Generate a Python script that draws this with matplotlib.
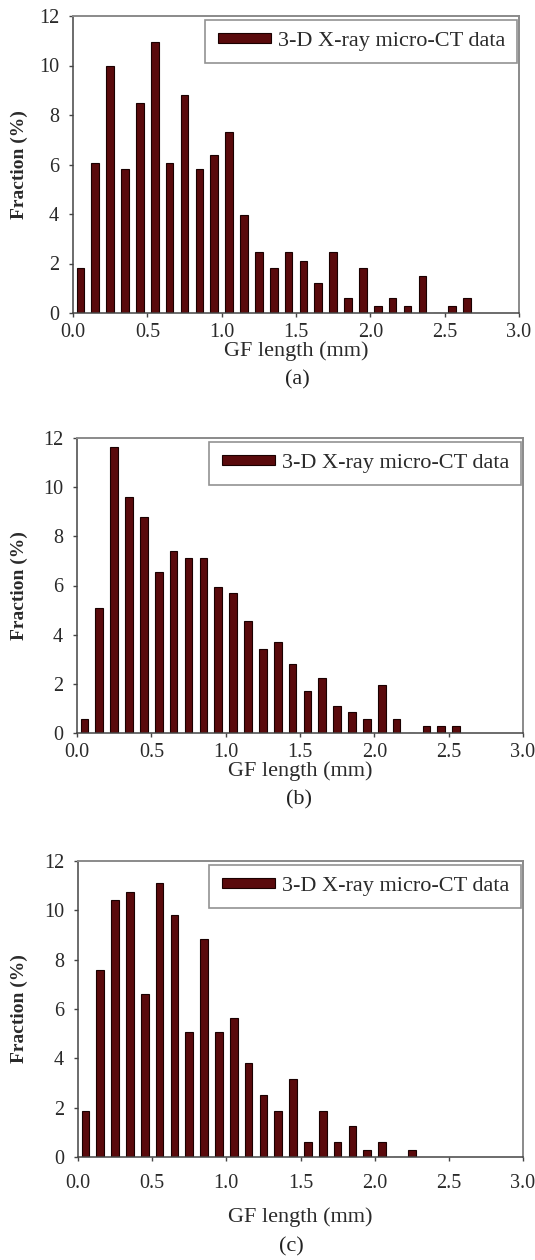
# GF length histograms from 3-D X-ray micro-CT, three panels

import matplotlib.pyplot as plt
import numpy as np

plt.rcParams['font.family'] = ['Liberation Serif', 'DejaVu Serif']

bins_a = [0.05, 0.15, 0.25, 0.35, 0.45, 0.55, 0.65, 0.75, 0.85, 0.95,
          1.05, 1.15, 1.25, 1.35, 1.45, 1.55, 1.65, 1.75, 1.85, 1.95,
          2.05, 2.15, 2.25, 2.35, 2.45, 2.55, 2.65]
frac_a = [1.8, 6.05, 10.0, 5.8, 8.5, 10.95, 6.05, 8.8, 5.8, 6.4,
          7.3, 3.95, 2.45, 1.8, 2.45, 2.1, 1.2, 2.45, 0.6, 1.8,
          0.3, 0.6, 0.3, 1.5, 0.0, 0.3, 0.6]

bins_b = [0.05, 0.15, 0.25, 0.35, 0.45, 0.55, 0.65, 0.75, 0.85, 0.95,
          1.05, 1.15, 1.25, 1.35, 1.45, 1.55, 1.65, 1.75, 1.85, 1.95,
          2.05, 2.15, 2.25, 2.35, 2.45, 2.55]
frac_b = [0.55, 5.1, 11.65, 9.6, 8.8, 6.55, 7.4, 7.1, 7.1, 5.95,
          5.7, 4.55, 3.4, 3.7, 2.8, 1.7, 2.25, 1.1, 0.85, 0.55,
          1.95, 0.55, 0.0, 0.3, 0.3, 0.3]

bins_c = [0.05, 0.15, 0.25, 0.35, 0.45, 0.55, 0.65, 0.75, 0.85, 0.95,
          1.05, 1.15, 1.25, 1.35, 1.45, 1.55, 1.65, 1.75, 1.85, 1.95,
          2.05, 2.15, 2.25]
frac_c = [1.85, 7.6, 10.4, 10.75, 6.6, 11.1, 9.8, 5.05, 8.85, 5.05,
          5.65, 3.8, 2.5, 1.85, 3.15, 0.6, 1.85, 0.6, 1.25, 0.3,
          0.6, 0.0, 0.3]

xticks = [0.0, 0.5, 1.0, 1.5, 2.0, 2.5, 3.0]
yticks = [0, 2, 4, 6, 8, 10, 12]
captions = ['(a)', '(b)', '(c)']
legend_text = '3-D X-ray micro-CT data'

W, H = 535, 1260
fig = plt.figure(figsize=(W / 100, H / 100), dpi=100)

# pixel boxes (left, top, right, bottom) of each plot area
boxes = [(73, 16, 519, 313), (77, 438, 523, 733), (78, 861, 523, 1157)]
xlabel_y = [351, 771, 1217]
caption_y = [380, 800, 1247]
caption_x = [297, 299, 291]
tick_pad = [4, 4, 9]

panels = [(bins_a, frac_a), (bins_b, frac_b), (bins_c, frac_c)]

for i, (bins, frac) in enumerate(panels):
    l, t, r, b = boxes[i]
    ax = fig.add_axes([l / W, 1 - b / H, (r - l) / W, (b - t) / H])
    ax.bar(bins, frac, width=0.052, color='#5a0a0c', edgecolor='#1a0000',
           linewidth=0.8, label=legend_text)
    ax.set_xlim(0, 3)
    ax.set_ylim(0, 12)
    ax.set_xticks(xticks)
    ax.set_xticklabels([f'{v:.1f}' for v in xticks])
    ax.set_yticks(yticks)
    ax.tick_params(axis='both', direction='out', length=3, width=1,
                   color='#444', labelsize=14.5, labelcolor='#2a2a2a')
    ax.tick_params(axis='x', pad=tick_pad[i])
    ax.tick_params(axis='y', pad=7)
    for s in ['left', 'bottom']:
        ax.spines[s].set_color('#444')
        ax.spines[s].set_linewidth(1.1)
    for s in ['top', 'right']:
        ax.spines[s].set_color('#8a8a8a')
        ax.spines[s].set_linewidth(1.4)

    ax.set_ylabel('Fraction (%)', fontsize=14, fontweight='bold', color='#2a2a2a',
                  va='center')
    ax.yaxis.set_label_coords((19 - l) / (r - l), 0.5)
    ax.set_xlabel('GF length (mm)', fontsize=16, color='#2a2a2a')
    ax.xaxis.set_label_coords(0.5, (b - xlabel_y[i]) / (b - t))
    ax.xaxis.label.set_va('center')

    leg = ax.legend(loc='upper right', bbox_to_anchor=(0.996, 0.987),
                    borderaxespad=0, fancybox=False, fontsize=16,
                    handlelength=2.4, handleheight=0.36, handletextpad=0.3,
                    borderpad=0.55)
    leg.get_frame().set_edgecolor('#777')
    leg.get_frame().set_linewidth(1.2)
    for txt in leg.get_texts():
        txt.set_color('#2a2a2a')

    fig.text(caption_x[i] / W, 1 - caption_y[i] / H, captions[i],
             fontsize=16, color='#222', ha='center', va='center')

fig.savefig('out.png', dpi=100)
